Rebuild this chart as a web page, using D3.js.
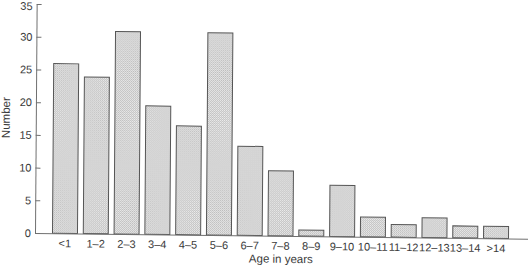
<!DOCTYPE html>
<html>
<head>
<meta charset="utf-8">
<script src="https://cdn.jsdelivr.net/npm/d3@7"></script>
<style>
  html, body { margin: 0; padding: 0; background: #ffffff; }
  svg { display: block; }
  text { font-family: "Liberation Sans", Arial, Helvetica, sans-serif; fill: #3a3a3a; }
</style>
</head>
<body>
<svg id="chart" width="528" height="265"></svg>
<script>
// ---- data ----
const categories = ["<1", "1\u20132", "2\u20133", "3\u20134", "4\u20135", "5\u20136", "6\u20137", "7\u20138",
                    "8\u20139", "9\u201310", "10\u201311", "11\u201312", "12\u201313", "13\u201314", ">14"];
const counts = [26, 24, 31, 19.7, 16.7, 31, 13.7, 10, 1, 7.9, 3.1, 2, 3.1, 1.9, 1.9];
const yTicks = [0, 5, 10, 15, 20, 25, 30, 35];
const xTitle = "Age in years";
const yTitle = "Number";

// ---- layout ----
const svg = d3.select("#chart");
const x0 = 35, y0 = 233, yTop = 4, xRight = 526;

const defs = svg.append("defs");
const pat = defs.append("pattern")
  .attr("id", "stipple").attr("patternUnits", "userSpaceOnUse")
  .attr("width", 2).attr("height", 2);
pat.append("rect").attr("width", 2).attr("height", 2).attr("fill", "#ececec");
pat.append("rect").attr("x", 0).attr("y", 0).attr("width", 1).attr("height", 1).attr("fill", "#bcbcbc");
pat.append("rect").attr("x", 1).attr("y", 1).attr("width", 1).attr("height", 1).attr("fill", "#bcbcbc");

// slight scan tilt
const g = svg.append("g")
  .attr("transform", `translate(${x0},${y0}) matrix(1,0.0115,-0.0072,1,0,0) translate(${-x0},${-y0})`);

const x = d3.scaleBand().domain(categories).range([x0, xRight])
  .paddingInner(0.156).paddingOuter(0.552);
const y = d3.scaleLinear().domain([0, 35]).range([y0, yTop]);

// bars
g.append("g").selectAll("rect").data(counts).join("rect")
  .attr("x", (d, i) => x(categories[i]) + 0.5)
  .attr("y", d => y(d) + 0.5)
  .attr("width", x.bandwidth() - 1)
  .attr("height", d => y(0) - y(d) - 0.5)
  .attr("fill", "url(#stipple)")
  .attr("stroke", "#555555")
  .attr("stroke-width", 1);

// y axis
const yAxis = d3.axisLeft(y).tickValues(yTicks).tickSizeInner(-5).tickSizeOuter(0).tickPadding(4);
const ya = g.append("g").attr("transform", `translate(${x0},0)`).call(yAxis);
ya.select(".domain").attr("stroke", "#707070");
ya.selectAll(".tick line").attr("stroke", "#707070");
ya.selectAll("text").attr("font-size", 11).attr("font-family", "Liberation Sans, Arial, sans-serif").attr("fill", "#3a3a3a")
  .attr("dy", d => d === 35 ? "0.5em" : "0.32em");

// x axis
const xAxis = d3.axisBottom(x).tickSize(0).tickPadding(6);
const xa = g.append("g").attr("transform", `translate(0,${y0})`).call(xAxis);
xa.select(".domain").attr("stroke", "#707070").attr("d", `M${x0},0.5H528`);
xa.selectAll("text").attr("font-size", 11).attr("font-family", "Liberation Sans, Arial, sans-serif").attr("fill", "#3a3a3a");

// titles
g.append("text").attr("x", 281).attr("y", 260).attr("text-anchor", "middle")
  .attr("font-size", 11.5).text(xTitle);
g.append("text").attr("transform", `translate(9,118) rotate(-90)`).attr("text-anchor", "middle")
  .attr("font-size", 11.5).text(yTitle);
</script>
</body>
</html>
